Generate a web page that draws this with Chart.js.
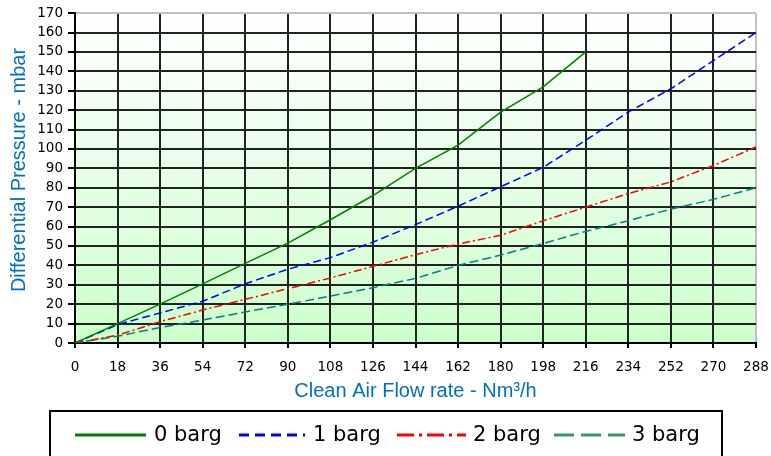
<!DOCTYPE html>
<html>
<head>
<meta charset="utf-8">
<script src="https://cdn.jsdelivr.net/npm/chart.js@4.4.1/dist/chart.umd.min.js"></script>
<style>
  body { margin: 0; background: #fff; }
  #wrap { width: 771px; height: 456px; position: relative; }
</style>
</head>
<body>
<div id="wrap"><canvas id="dpChart"></canvas></div>
<script>
// Clean air flow rate (Nm3/h) - one reading per grid column
const flowRates = [0, 18, 36, 54, 72, 90, 108, 126, 144, 162, 180, 198, 216, 234, 252, 270, 288];

// Differential pressure (mbar)
const dp0barg = [0, 10, 20, 30.5, 41, 51.5, 63.5, 76, 90, 102, 119, 132, 150];
const dp1barg = [0, 9.5, 15.5, 21.5, 30.5, 38, 44, 52, 61, 70.5, 80.5, 90.5, 104.5, 119, 131, 145.5, 160];
const dp2barg = [0, 4, 11, 17, 22.5, 28, 33.5, 39.5, 45.5, 51, 55.5, 63, 70, 77, 83, 91.5, 101];
const dp3barg = [0, 3.5, 8, 11.8, 16, 20, 24.2, 28.5, 33.3, 40, 45.3, 51.3, 57.5, 63, 69, 74, 80];

const seriesLabels = ['0 barg', '1 barg', '2 barg', '3 barg'];
const yTitle = 'Differential Pressure - mbar';
const xTitle = 'Clean Air Flow rate - Nm³/h';

// line styles
const lineColors = ['#008000', '#0000ff', '#ff0000', '#008080'];
const lineDashes = [[], [8, 4], [8, 3, 2, 3], [9, 4]];
// legend samples look a bit different from the plot lines
const legendColors = ['#008000', '#0000ff', '#ff0000', '#339966'];
const legendDashes = [[], [10, 6], [17, 5, 3, 5], [20, 7]];
const legendLineX = [75, 239, 397, 554];
const legendLineLen = [71, 66, 69, 71];
const legendTextX = [154, 313, 473, 632];

function toPoints(values) {
    return values.map((v, i) => ({ x: flowRates[i], y: v }));
}

// gradient behind the plot area: white at the top, pale green at the bottom
const plotBackground = {
    id: 'plotBackground',
    beforeDraw(chart) {
        const { ctx, chartArea: a } = chart;
        const g = ctx.createLinearGradient(0, a.top, 0, a.bottom);
        g.addColorStop(0, '#ffffff');
        g.addColorStop(1, '#ccffcc');
        ctx.save();
        ctx.fillStyle = g;
        ctx.fillRect(a.left, a.top, a.right - a.left, a.bottom - a.top);
        ctx.restore();
    }
};

// rotated y title + boxed legend under the axis title
const extras = {
    id: 'extras',
    afterDraw(chart) {
        const ctx = chart.ctx;
        ctx.save();
        ctx.translate(19, 170);
        ctx.rotate(-Math.PI / 2);
        ctx.fillStyle = '#0070c0';
        ctx.font = '20px "Liberation Sans"';
        ctx.textAlign = 'center';
        ctx.textBaseline = 'middle';
        ctx.fillText(yTitle, 0, 0);
        ctx.restore();

        ctx.save();
        ctx.strokeStyle = '#000';
        ctx.lineWidth = 2;
        ctx.strokeRect(50, 411, 672, 60);

        const y = 435;
        chart.data.datasets.forEach((ds, i) => {
            ctx.beginPath();
            ctx.strokeStyle = legendColors[i];
            ctx.lineWidth = 3;
            ctx.setLineDash(legendDashes[i]);
            ctx.moveTo(legendLineX[i], y);
            ctx.lineTo(legendLineX[i] + legendLineLen[i], y);
            ctx.stroke();
            ctx.setLineDash([]);
            ctx.fillStyle = '#000';
            ctx.font = '21px "DejaVu Sans"';
            ctx.textBaseline = 'middle';
            ctx.textAlign = 'left';
            ctx.fillText(ds.label, legendTextX[i], y + 1);
        });
        ctx.restore();
    }
};

const allSeries = [dp0barg, dp1barg, dp2barg, dp3barg];

document.addEventListener('DOMContentLoaded', function() {
    const ctx = document.getElementById('dpChart').getContext('2d');

    new Chart(ctx, {
        type: 'line',
        data: {
            datasets: allSeries.map((vals, i) => ({
                label: seriesLabels[i],
                data: toPoints(vals),
                borderColor: lineColors[i],
                borderDash: lineDashes[i],
                borderWidth: 1.5,
                pointRadius: 0,
                fill: false,
                tension: 0
            }))
        },
        options: {
            responsive: true,
            maintainAspectRatio: false,
            animation: false,
            layout: { padding: { left: 0, right: 15, top: 13, bottom: 53 } },
            plugins: {
                legend: { display: false },
                tooltip: { enabled: false }
            },
            scales: {
                x: {
                    type: 'linear',
                    min: 0,
                    max: 288,
                    afterFit: (s) => {
                        s.height = 60;
                        s.paddingLeft = 0;
                        s.paddingRight = 0;
                    },
                    ticks: {
                        stepSize: 18,
                        padding: 11,
                        color: '#000',
                        font: { family: 'DejaVu Sans', size: 13.5 }
                    },
                    grid: {
                        color: (c) => c.tick && c.tick.value === 288 ? '#c0c0c0' : '#222',
                        lineWidth: 2,
                        tickLength: 5,
                        tickColor: '#000'
                    },
                    border: { color: '#000', width: 2 },
                    title: {
                        display: true,
                        text: xTitle,
                        color: '#0070c0',
                        font: { family: 'Liberation Sans', size: 20 },
                        padding: 0
                    }
                },
                y: {
                    min: 0,
                    max: 170,
                    afterFit: (s) => { s.width = 75; },
                    ticks: {
                        stepSize: 10,
                        padding: 5,
                        color: '#000',
                        font: { family: 'DejaVu Sans', size: 13.5 }
                    },
                    grid: {
                        color: (c) => c.tick && c.tick.value === 170 ? '#c0c0c0' : '#222',
                        lineWidth: 2,
                        tickLength: 7,
                        tickColor: '#000'
                    },
                    border: { color: '#000', width: 2 },
                    title: { display: false }
                }
            }
        },
        plugins: [plotBackground, extras]
    });
});
</script>
</body>
</html>
